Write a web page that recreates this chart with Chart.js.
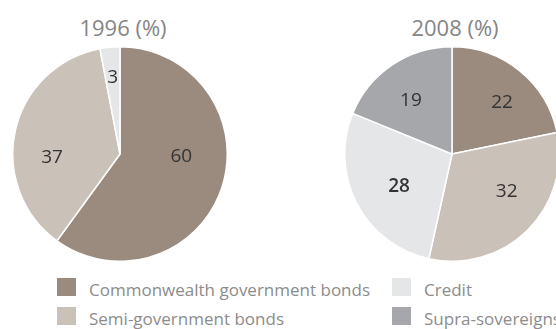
<!DOCTYPE html>
<html>
<head>
<meta charset="utf-8">
<script src="https://cdn.jsdelivr.net/npm/chart.js@4"></script>
<style>
  html, body { margin: 0; padding: 0; background: #fff; }
  body { width: 556px; height: 329px; position: relative; overflow: hidden; font-family: "Open Sans", sans-serif; }
  .title { position: absolute; top: 12px; width: 160px; text-align: center; font-size: 22px; color: #858585; line-height: 30px; }
  .pie { position: absolute; top: 46px; width: 216px; height: 216px; }
  .leg { position: absolute; font-size: 17px; color: #8c8c8c; line-height: 20px; white-space: nowrap; }
  .leg i { position: absolute; left: 0; top: 0; width: 19px; height: 18px; }
  .leg span { position: absolute; left: 32px; top: 2px; }
</style>
</head>
<body>
<div class="title" style="left:43px">1996 (%)</div>
<div class="title" style="left:375px">2008 (%)</div>
<div class="pie" style="left:12px"><canvas id="pie1996"></canvas></div>
<div class="pie" style="left:344px"><canvas id="pie2008"></canvas></div>
<div id="legend"></div>
<script>
  const categories = ['Commonwealth government bonds', 'Semi-government bonds', 'Credit', 'Supra-sovereigns'];
  const colors = ['#9a8b7e', '#cac1b8', '#e5e6e8', '#a6a7ab'];
  const values1996 = [60, 37, 3, 0];
  const values2008 = [22, 32, 28, 19];

  // small hand nudges for the slice numbers, as in the original artwork
  const nudges = {
    pie1996: [[-2, -18], [-3, 18], [0, 0], [0, 0]],
    pie2008: [[8, 0], [8, -10], [6, 2], [-4, 2]]
  };

  // draws the numbers inside each slice
  const sliceLabels = {
    id: 'sliceLabels',
    afterDatasetsDraw(chart) {
      const ctx = chart.ctx;
      const meta = chart.getDatasetMeta(0);
      const vals = chart.data.datasets[0].data;
      const nudge = nudges[chart.canvas.id];
      ctx.save();
      ctx.textAlign = 'center';
      ctx.textBaseline = 'middle';
      ctx.fillStyle = '#333333';
      meta.data.forEach((arc, i) => {
        if (!vals[i]) return;
        const mid = (arc.startAngle + arc.endAngle) / 2;
        const r = arc.outerRadius * (vals[i] < 10 ? 0.72 : 0.62);
        const bold = chart.canvas.id === 'pie2008' && i === 2;
        ctx.font = (bold ? '600 ' : '') + '19px "Open Sans", sans-serif';
        ctx.fillText(String(vals[i]),
          arc.x + Math.cos(mid) * r + nudge[i][0],
          arc.y + Math.sin(mid) * r + nudge[i][1]);
      });
      ctx.restore();
    }
  };

  function makePie(id, values) {
    return new Chart(document.getElementById(id), {
      type: 'pie',
      data: {
        labels: categories,
        datasets: [{
          data: values,
          backgroundColor: colors,
          borderColor: '#ffffff',
          borderWidth: 1.5
        }]
      },
      options: {
        responsive: true,
        maintainAspectRatio: false,
        animation: false,
        layout: { padding: 0 },
        plugins: {
          legend: { display: false },
          tooltip: { enabled: false }
        }
      },
      plugins: [sliceLabels]
    });
  }

  makePie('pie1996', values1996);
  makePie('pie2008', values2008);

  // legend in two columns, two rows
  const legendPos = [[57, 278], [57, 307], [392, 278], [392, 307]];
  const legend = document.getElementById('legend');
  categories.forEach((name, i) => {
    const d = document.createElement('div');
    d.className = 'leg';
    d.style.left = legendPos[i][0] + 'px';
    d.style.top = legendPos[i][1] + 'px';
    d.innerHTML = `<i style="background:${colors[i]}"></i><span>${name}</span>`;
    legend.appendChild(d);
  });
</script>
</body>
</html>
